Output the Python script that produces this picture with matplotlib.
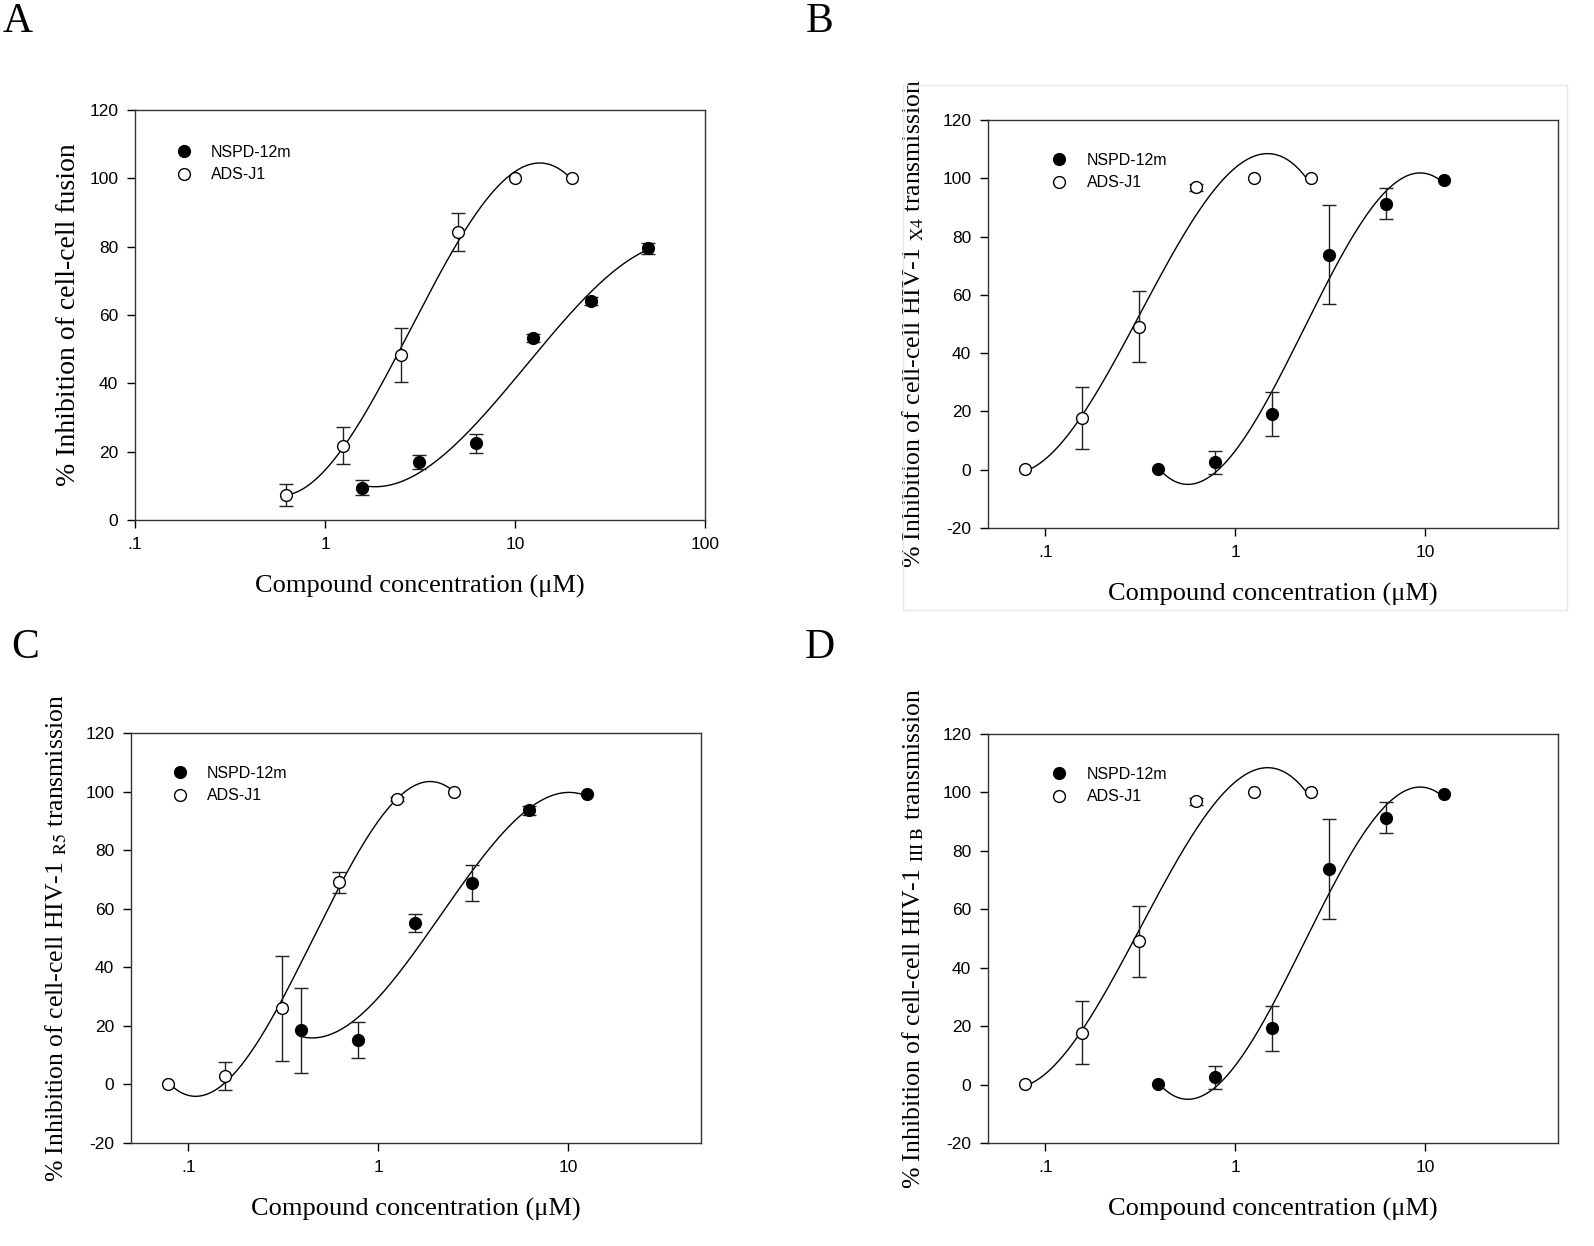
import numpy as np
import matplotlib
matplotlib.use("Agg")
import matplotlib.pyplot as plt
from matplotlib.ticker import FixedLocator, FixedFormatter
from matplotlib.patches import Rectangle

plt.rcParams['font.family'] = ['Liberation Serif', 'DejaVu Serif']
plt.rcParams['mathtext.fontset'] = 'stix'
plt.rcParams['axes.unicode_minus'] = False

# panel A - cell-cell fusion
a_nspd_x = [1.5625, 3.125, 6.25, 12.5, 25, 50]
a_nspd_y = [9.5, 16.9, 22.4, 53.3, 64.1, 79.6]
a_nspd_err = [2.3, 2.0, 2.9, 1.2, 1.2, 1.6]
a_ads_x = [0.625, 1.25, 2.5, 5, 10, 20]
a_ads_y = [7.3, 21.8, 48.3, 84.3, 100, 100]
a_ads_err = [3.2, 5.5, 7.8, 5.6, 0, 0]

# panel B / D - HIV-1 X4 and IIIB (same values)
b_nspd_x = [0.390625, 0.78125, 1.5625, 3.125, 6.25, 12.5]
b_nspd_y = [0.2, 2.5, 19.2, 73.8, 91.3, 99.3]
b_nspd_err = [0, 4.0, 7.6, 17.0, 5.3, 0]
b_ads_x = [0.078125, 0.15625, 0.3125, 0.625, 1.25, 2.5]
b_ads_y = [0.2, 17.8, 49.0, 97.0, 100, 100]
b_ads_err = [0, 10.7, 12.2, 1.2, 0, 0]

# panel C - HIV-1 R5
c_nspd_x = [0.390625, 0.78125, 1.5625, 3.125, 6.25, 12.5]
c_nspd_y = [18.5, 15.2, 55.1, 68.8, 93.6, 99.2]
c_nspd_err = [14.5, 6.2, 3.0, 6.2, 1.5, 0]
c_ads_x = [0.078125, 0.15625, 0.3125, 0.625, 1.25, 2.5]
c_ads_y = [0.2, 2.9, 26.0, 69.0, 97.5, 99.8]
c_ads_err = [0, 4.8, 18.0, 3.6, 0.8, 0]

xlabel = u"Compound concentration (\u03bcM)"
labels = ["NSPD-12m", "ADS-J1"]

W, H = 1594, 1246
fig = plt.figure(figsize=(W / 100, H / 100), dpi=100)


def box(l, t, r, b):
    return [l / W, 1 - b / H, (r - l) / W, (b - t) / H]


def draw(ax, nx, ny, ne, ox, oy, oe, xlim, xticks, ylim, yticks, ylab, leg_xy, ypad, ysize):
    for x, y, e in [(ox, oy, oe), (nx, ny, ne)]:
        x = np.array(x); y = np.array(y); e = np.array(e)
        lx = np.log10(x)
        p = np.polyfit(lx, y, 3)
        xs = np.linspace(lx[0], lx[-1], 300)
        ax.plot(10 ** xs, np.polyval(p, xs), color='black', lw=1.0, zorder=2)
        m = e > 0
        ax.errorbar(x[m], y[m], yerr=e[m], fmt='none', ecolor='#222222',
                    elinewidth=1.0, capsize=5, capthick=1.0, zorder=3)
    h1, = ax.plot(nx, ny, 'o', ms=8.5, mfc='black', mec='black', mew=1, zorder=4)
    h2, = ax.plot(ox, oy, 'o', ms=8.5, mfc='white', mec='black', mew=1, zorder=4)
    ax.legend([h1, h2], labels, loc='upper left', bbox_to_anchor=leg_xy,
              frameon=False, handlelength=1.0, handletextpad=1.2,
              labelspacing=0.45, borderaxespad=0,
              prop={'family': 'Liberation Sans', 'size': 11.5})
    ax.set_xscale('log')
    ax.set_xlim(xlim)
    ax.set_ylim(ylim)
    ax.xaxis.set_major_locator(FixedLocator(xticks))
    ax.xaxis.set_major_formatter(FixedFormatter([('%g' % t).lstrip('0') for t in xticks]))
    ax.xaxis.set_minor_locator(FixedLocator([]))
    ax.set_yticks(yticks)
    ax.tick_params(direction='out', length=6, width=1, labelsize=12.5,
                   top=False, right=False, pad=6)
    for lab in ax.get_xticklabels() + ax.get_yticklabels():
        lab.set_family('Liberation Sans')
    for s in ax.spines.values():
        s.set_linewidth(1.0)
        s.set_color('#333333')
    ax.set_xlabel(xlabel, fontsize=19, labelpad=17)
    ax.set_ylabel(ylab, fontsize=ysize, labelpad=ypad)


# faint frame around panel B
fig.add_artist(Rectangle((903 / W, 1 - 610 / H), (1567 - 903) / W, (610 - 85) / H,
                         transform=fig.transFigure, fill=False, ec='#e6e6e6', lw=1))

axA = fig.add_axes(box(135, 110, 705, 520))
draw(axA, a_nspd_x, a_nspd_y, a_nspd_err, a_ads_x, a_ads_y, a_ads_err,
     (0.1, 100), [0.1, 1, 10, 100], (0, 120), range(0, 121, 20),
     "% Inhibition of cell-cell fusion", (0.06, 0.93), 6, 20)

axB = fig.add_axes(box(988, 120, 1558, 528))
draw(axB, b_nspd_x, b_nspd_y, b_nspd_err, b_ads_x, b_ads_y, b_ads_err,
     (0.05, 50), [0.1, 1, 10], (-20, 120), range(-20, 121, 20),
     r"% Inhibition of cell-cell HIV-1 $_{\mathrm{X4}}$ transmission", (0.1, 0.935), 12, 18.5)

axC = fig.add_axes(box(131, 733, 701, 1143))
draw(axC, c_nspd_x, c_nspd_y, c_nspd_err, c_ads_x, c_ads_y, c_ads_err,
     (0.05, 50), [0.1, 1, 10], (-20, 120), range(-20, 121, 20),
     r"% Inhibition of cell-cell HIV-1 $_{\mathrm{R5}}$ transmission", (0.06, 0.935), 12, 18.5)

axD = fig.add_axes(box(988, 734, 1558, 1143))
draw(axD, b_nspd_x, b_nspd_y, b_nspd_err, b_ads_x, b_ads_y, b_ads_err,
     (0.05, 50), [0.1, 1, 10], (-20, 120), range(-20, 121, 20),
     r"% Inhibition of cell-cell HIV-1 $_{\mathrm{III\ B}}$ transmission", (0.1, 0.935), 12, 18.5)

for letter, (px, py) in zip("ABCD", [(18, 22), (820, 22), (25, 648), (820, 648)]):
    fig.text(px / W, 1 - py / H, letter, fontsize=30, ha='center', va='center')

fig.savefig("out.png", dpi=100, facecolor='white')
